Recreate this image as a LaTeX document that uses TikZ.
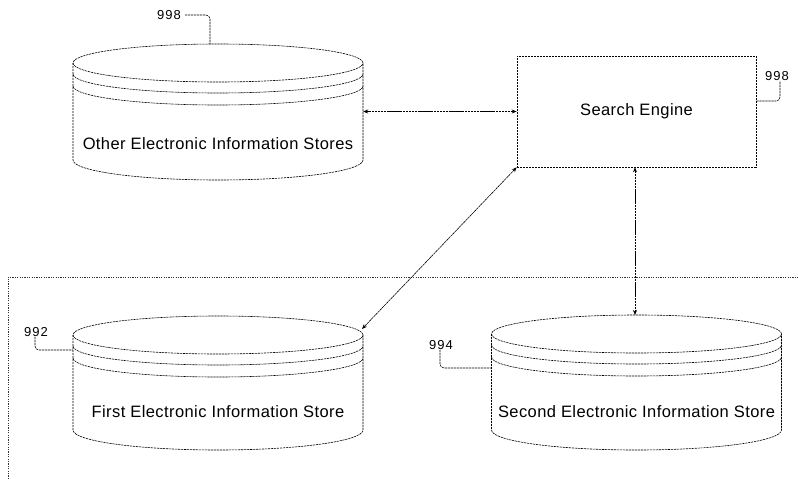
\documentclass[tikz,border=0pt]{standalone}
\usepackage{fontspec}
\setmainfont{Liberation Sans}
\newfontfamily\capfont[LetterSpace=2.5]{Liberation Sans}
\newfontfamily\numfont[LetterSpace=8]{Liberation Sans}
\usetikzlibrary{arrows.meta}

% one stacked-disk store: name, centre x, top ellipse y, bottom ellipse y, caption y, caption
\newcommand\storecyl[6]{%
  \node[body, minimum height={(#3)-(#4)}] (#1) at (#2,{((#3)+(#4))/2}) {};
  \draw[ln] (#2,#3) ellipse[x radius=145, y radius=19];
  \draw[ln] ({#2-145},{#3-11}) arc[start angle=180, end angle=360, x radius=145, y radius=19];
  \draw[ln] ({#2-145},{#3-23}) arc[start angle=180, end angle=360, x radius=145, y radius=19];
  \draw[ln] ({#2-145},#3) -- ({#2-145},#4)
            arc[start angle=180, end angle=360, x radius=145, y radius=20]
            -- ({#2+145},#3);
  \node[caption] (#1-text) at (#2,#5) {#6};
}

\begin{document}
\begin{tikzpicture}[x=1pt, y=1pt,
  ln/.style={line width=0.6pt, dash pattern=on 2.2pt off 0.8pt},
  frame/.style={line width=0.5pt, dash pattern=on 1.2pt off 1.2pt, black!80},
  body/.style={draw=none, minimum width=290pt, inner sep=0pt},
  caption/.style={font=\capfont\fontsize{16.5}{18}\selectfont, inner sep=0pt},
  refnum/.style={font=\numfont\fontsize{13}{14}\selectfont, inner sep=0pt},
  enginebox/.style={ln, minimum width=239pt, minimum height=111pt, inner sep=0pt,
    font=\capfont\fontsize{16.5}{18}\selectfont},
  link/.style={line width=0.6pt, dash pattern=on 2.5pt off 0.6pt,
    {Stealth[length=5pt,width=4pt]}-{Stealth[length=5pt,width=4pt]}},
  leader/.style={ln, rounded corners=4pt}]

\useasboundingbox (0,0) rectangle (798,-479);

% enclosing boundary of the local stores
\draw[frame] (8,-479) -- (8,-277) -- (800,-277);

% stores
\storecyl{other}{218}{-63}{-160}{-144}{Other Electronic Information Stores}
\storecyl{first}{218}{-335}{-430}{-412}{First Electronic Information Store}
\storecyl{second}{636.5}{-334}{-430}{-412}{Second Electronic Information Store}

\coordinate (first-rim) at (362,-329);
\coordinate (second-top) at (635,-315);
\coordinate (other-top) at (210,-44);

% search engine
\node[draw, enginebox] (engine) at (636.5,-111.5) {Search Engine};

% links between the engine and the stores
\draw[link] (engine.west) -- (engine.west -| other.east);
\draw[link] (engine.south west) -- (first-rim);
\draw[link] (engine.south -| second-top) -- (second-top);

% reference numerals
\node[refnum] (n998a) at (169,-15) {998};
\draw[leader] (n998a.east) ++(4,0) -| (other-top);

\node[refnum] (n998b) at (777,-76) {998};
\coordinate (engine-tap) at (engine.east |- 0,-101);
\draw[leader] (engine-tap) -| ([xshift=3pt]n998b.south);

\node[refnum] (n992) at (36,-332) {992};
\coordinate (first-tap) at (first.west |- 0,-350);
\draw[leader] ([xshift=-1pt]n992.south) |- (first-tap);

\node[refnum] (n994) at (441,-345) {994};
\coordinate (second-tap) at (second.west |- 0,-368);
\draw[leader] ([xshift=-1pt]n994.south) |- (second-tap);

\end{tikzpicture}
\end{document}
